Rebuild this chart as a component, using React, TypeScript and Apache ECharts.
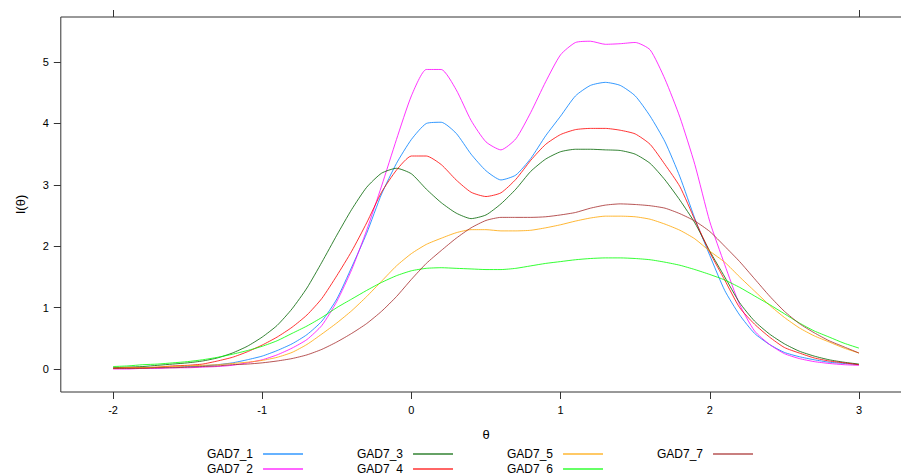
import React, { useEffect, useRef } from "react";
import * as echarts from "echarts";

const theta = [
  -2.0, -1.9, -1.8, -1.7, -1.6, -1.5, -1.4, -1.3, -1.2, -1.1,
  -1.0, -0.9, -0.8, -0.7, -0.6, -0.5, -0.4, -0.3, -0.2, -0.1,
  0.0, 0.1, 0.2, 0.3, 0.4, 0.5, 0.6, 0.7, 0.8, 0.9,
  1.0, 1.1, 1.2, 1.3, 1.4, 1.5, 1.6, 1.7, 1.8, 1.9,
  2.0, 2.1, 2.2, 2.3, 2.4, 2.5, 2.6, 2.7, 2.8, 2.9, 3.0,
];

const gad7_1 = [
  0.01, 0.01, 0.02, 0.02, 0.03, 0.04, 0.05, 0.07, 0.10, 0.15,
  0.21, 0.30, 0.41, 0.56, 0.78, 1.14, 1.66, 2.21, 2.85, 3.35,
  3.74, 4.00, 4.02, 3.84, 3.50, 3.23, 3.08, 3.16, 3.43, 3.80,
  4.12, 4.45, 4.62, 4.67, 4.62, 4.45, 4.12, 3.70, 3.13, 2.45,
  1.85, 1.28, 0.88, 0.58, 0.40, 0.27, 0.20, 0.15, 0.11, 0.09, 0.07,
];
const gad7_2 = [
  0.00, 0.00, 0.01, 0.01, 0.02, 0.02, 0.03, 0.04, 0.06, 0.10,
  0.15, 0.23, 0.34, 0.48, 0.71, 1.10, 1.62, 2.26, 2.98, 3.74,
  4.45, 4.88, 4.88, 4.55, 4.05, 3.70, 3.57, 3.75, 4.18, 4.68,
  5.12, 5.32, 5.34, 5.29, 5.30, 5.32, 5.20, 4.72, 4.10, 3.33,
  2.40, 1.70, 1.05, 0.62, 0.40, 0.25, 0.17, 0.12, 0.09, 0.07, 0.06,
];
const gad7_3 = [
  0.02, 0.03, 0.04, 0.06, 0.08, 0.10, 0.13, 0.18, 0.26, 0.37,
  0.52, 0.71, 0.98, 1.32, 1.74, 2.18, 2.60, 2.96, 3.19, 3.27,
  3.18, 2.93, 2.71, 2.54, 2.45, 2.51, 2.69, 2.93, 3.22, 3.42,
  3.54, 3.58, 3.58, 3.57, 3.56, 3.50, 3.35, 3.08, 2.75, 2.38,
  1.92, 1.50, 1.08, 0.78, 0.57, 0.41, 0.29, 0.21, 0.15, 0.11, 0.08,
];
const gad7_4 = [
  0.01, 0.02, 0.02, 0.03, 0.05, 0.06, 0.08, 0.13, 0.19, 0.28,
  0.39, 0.52, 0.68, 0.88, 1.15, 1.52, 1.92, 2.38, 2.88, 3.24,
  3.47, 3.47, 3.33, 3.08, 2.88, 2.81, 2.87, 3.09, 3.40, 3.66,
  3.82, 3.90, 3.92, 3.92, 3.89, 3.83, 3.66, 3.33, 2.97, 2.43,
  1.90, 1.45, 1.00, 0.73, 0.52, 0.35, 0.26, 0.18, 0.13, 0.10, 0.07,
];
const gad7_5 = [
  0.01, 0.02, 0.02, 0.03, 0.04, 0.05, 0.06, 0.07, 0.09, 0.11,
  0.14, 0.19, 0.27, 0.40, 0.57, 0.75, 0.95, 1.18, 1.43, 1.68,
  1.88, 2.03, 2.13, 2.22, 2.27, 2.27, 2.25, 2.25, 2.26, 2.30,
  2.35, 2.41, 2.46, 2.49, 2.49, 2.48, 2.44, 2.36, 2.26, 2.12,
  1.92, 1.74, 1.50, 1.27, 1.04, 0.84, 0.67, 0.54, 0.44, 0.34, 0.26,
];
const gad7_6 = [
  0.04, 0.05, 0.07, 0.08, 0.10, 0.12, 0.15, 0.19, 0.24, 0.30,
  0.37, 0.46, 0.58, 0.70, 0.84, 1.00, 1.14, 1.28, 1.41, 1.52,
  1.60, 1.64, 1.65, 1.64, 1.63, 1.62, 1.62, 1.64, 1.68, 1.72,
  1.75, 1.78, 1.80, 1.81, 1.81, 1.80, 1.78, 1.74, 1.69, 1.62,
  1.54, 1.45, 1.33, 1.19, 1.05, 0.90, 0.75, 0.62, 0.52, 0.42, 0.34,
];
const gad7_7 = [
  0.01, 0.01, 0.01, 0.02, 0.02, 0.03, 0.04, 0.05, 0.07, 0.08,
  0.10, 0.13, 0.17, 0.23, 0.32, 0.44, 0.58, 0.74, 0.94, 1.18,
  1.46, 1.72, 1.93, 2.13, 2.30, 2.42, 2.47, 2.47, 2.47, 2.48,
  2.51, 2.55, 2.62, 2.67, 2.69, 2.68, 2.66, 2.62, 2.53, 2.41,
  2.24, 2.00, 1.75, 1.47, 1.19, 0.94, 0.74, 0.59, 0.46, 0.36, 0.26,
];

const seriesNames = ["GAD7_1", "GAD7_2", "GAD7_3", "GAD7_4", "GAD7_5", "GAD7_6", "GAD7_7"];
const seriesValues = [gad7_1, gad7_2, gad7_3, gad7_4, gad7_5, gad7_6, gad7_7];
const seriesColors = ["#0080ff", "#ff00ff", "#006400", "#ff0000", "#ffa500", "#00ff00", "#a52a2a"];

const xTicks = [-2, -1, 0, 1, 2, 3];
const xTopTicks = [-2, 3];
const yTicks = [0, 1, 2, 3, 4, 5];

// legend layout: column index and row index for each series (column-major)
const legendCol = [0, 0, 1, 1, 2, 2, 3];
const legendRow = [0, 1, 0, 1, 0, 1, 0];
const legendLefts = [207, 357, 507, 657];
const legendTops = [448, 463];

export default function App() {
  const ref = useRef<HTMLDivElement>(null);

  useEffect(() => {
    if (!ref.current) return;
    const chart = echarts.init(ref.current, null, { renderer: "svg" });
    const font = "'Liberation Sans', Arial, sans-serif";
    const axisColor = "#333333";

    const option: any = {
      animation: false,
      backgroundColor: "#ffffff",
      textStyle: { fontFamily: font },
      grid: {
        left: 60.8,
        right: 0.8,
        top: 17,
        bottom: 83,
        show: true,
        borderColor: axisColor,
        borderWidth: 1,
        backgroundColor: "transparent",
      },
      xAxis: [
        {
          type: "value",
          position: "bottom",
          min: -2.35,
          max: 3.35,
          axisLine: { show: false, onZero: false },
          splitLine: { show: false },
          axisTick: {
            show: true,
            customValues: xTicks,
            length: 7,
            inside: false,
            lineStyle: { color: axisColor, width: 1 },
          },
          axisLabel: {
            customValues: xTicks,
            fontSize: 11,
            color: "#000",
            margin: 12,
            fontFamily: font,
          },
          name: "θ",
          nameLocation: "middle",
          nameGap: 36,
          nameTextStyle: { fontSize: 13, color: "#000", fontFamily: font },
        },
        {
          type: "value",
          position: "top",
          min: -2.35,
          max: 3.35,
          axisLine: { show: false, onZero: false },
          splitLine: { show: false },
          axisTick: {
            show: true,
            customValues: xTopTicks,
            length: 7,
            inside: false,
            lineStyle: { color: axisColor, width: 1 },
          },
          axisLabel: { show: false, customValues: xTopTicks },
        },
      ],
      yAxis: {
        type: "value",
        position: "left",
        min: -0.375,
        max: 5.735,
        axisLine: { show: false, onZero: false },
        splitLine: { show: false },
        axisTick: {
          show: true,
          customValues: yTicks,
          length: 7,
          inside: false,
          lineStyle: { color: axisColor, width: 1 },
        },
        axisLabel: {
          customValues: yTicks,
          fontSize: 11,
          color: "#000",
          margin: 12,
          fontFamily: font,
        },
        name: "I(θ)",
        nameLocation: "middle",
        nameGap: 34,
        nameRotate: 90,
        nameTextStyle: { fontSize: 13, color: "#000", fontFamily: font },
      },
      legend: seriesNames.map((name, i) => ({
        left: legendLefts[legendCol[i]],
        top: legendTops[legendRow[i]],
        orient: "horizontal",
        align: "right",
        padding: 0,
        itemWidth: 40,
        itemHeight: 1.5,
        icon: "rect",
        selectedMode: false,
        data: [name],
        textStyle: { fontSize: 12, color: "#000", fontFamily: font, padding: [0, 5, 0, 0] },
      })),
      series: seriesNames.map((name, i) => ({
        name,
        type: "line",
        xAxisIndex: 0,
        yAxisIndex: 0,
        data: theta.map((t, j) => [t, seriesValues[i][j]]),
        showSymbol: false,
        symbol: "none",
        smooth: 0.2,
        color: seriesColors[i],
        lineStyle: { color: seriesColors[i], width: 1, opacity: 0.8 },
        itemStyle: { color: seriesColors[i], opacity: 0.8 },
      })),
    };

    chart.setOption(option);
    return () => chart.dispose();
  }, []);

  return (
    <div style={{ position: "absolute", left: 0, top: 0, width: 901, height: 475, overflow: "hidden", background: "#fff" }}>
      <div ref={ref} style={{ width: 912, height: 475 }} />
    </div>
  );
}
